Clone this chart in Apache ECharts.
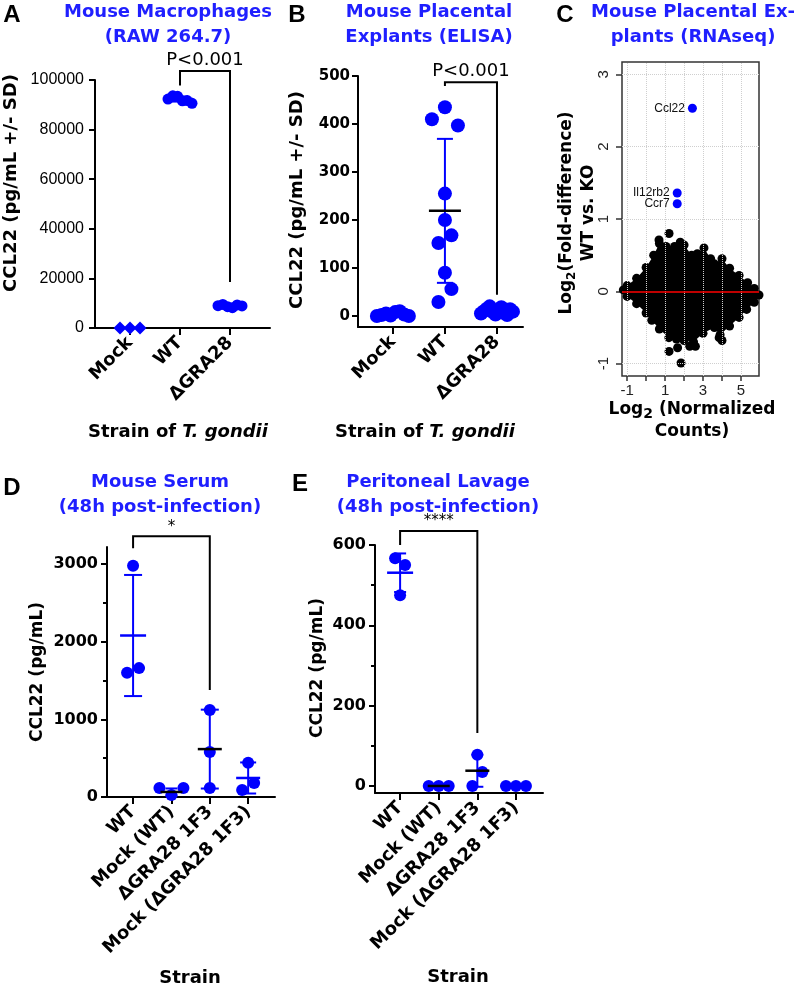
<!DOCTYPE html>
<html>
<head>
<meta charset="utf-8">
<script src="https://cdn.jsdelivr.net/npm/echarts@6/dist/echarts.min.js"></script>
<style>
html, body { margin: 0; padding: 0; background: #fff; }
#chart { width: 800px; height: 989px; }
</style>
</head>
<body>
<div id="chart"></div>
<script>
// ---------- data ----------
// A: RAW 264.7
const catA = ['Mock', 'WT', '\u0394GRA28'];
const mockA = [0, 0, 0];
const wtA = [92300, 93600, 93400, 91600, 91700, 90600];
const graA = [9000, 9500, 8600, 8200, 9300, 8900];
const meanA = [0, 92300, 8900];
const sdA = [0, 1000, 500];
const ticksA = [0, 20000, 40000, 60000, 80000, 100000];

// B: placental explants ELISA
const catB = ['Mock', 'WT', '\u0394GRA28'];
const mockB = [0, 2, 5, 1, 8, 10, 3, 0];
const wtB = [410, 435, 397, 255, 200, 152, 168, 90, 29, 56];
const graB = [5, 10, 15, 20, 8, 3, 12, 18, 6, 2, 14, 9];
const meanB = [4, 219, 10];
const sdB = [4, 150, 6];
const ticksB = [0, 100, 200, 300, 400, 500];

// C: RNAseq MA plot (outline of the dense cloud, stray points, labelled genes)
const cloudUpper = [[-1.2, 0.02], [-1.0, 0.08], [-0.5, 0.18], [0, 0.33], [0.4, 0.5], [0.7, 0.66], [1.05, 0.62],
  [1.5, 0.62], [1.8, 0.68], [2.0, 0.64], [2.4, 0.5], [2.7, 0.52], [3.05, 0.6], [3.4, 0.45], [3.6, 0.38],
  [4.0, 0.45], [4.4, 0.32], [4.9, 0.22], [5.35, 0.12], [5.7, 0.04], [5.95, -0.05]];
const cloudLower = [[5.7, -0.15], [5.3, -0.25], [4.9, -0.36], [4.4, -0.48], [3.9, -0.6], [3.6, -0.5], [3.0, -0.58],
  [2.5, -0.7], [2.0, -0.68], [1.6, -0.66], [1.2, -0.64], [0.7, -0.52], [0.3, -0.4], [0, -0.3], [-0.5, -0.17], [-1.0, -0.07]];
const cloudOut = [[1.21, 0.8], [0.68, 0.71], [1.21, -0.83], [1.66, -0.78], [2.3, -0.76], [2.6, -0.76],
  [1.84, -0.99], [3.85, -0.64], [4.0, -0.68]];
const genesC = ['Ccl22', 'Il12rb2', 'Ccr7'];
const genesX = [2.44, 1.64, 1.64];
const genesY = [2.53, 1.36, 1.21];

// D: mouse serum
const catD = ['WT', 'Mock (WT)', '\u0394GRA28 1F3', 'Mock (\u0394GRA28 1F3)'];
const wtD = [2980, 1600, 1660];
const mockWtD = [115, 25, 115];
const graD = [1120, 580, 116];
const mockGraD = [440, 90, 180];
const meanD = [2080, 65, 617, 245];
const sdD = [780, 45, 508, 200];

// E: peritoneal lavage
const catE = ['WT', 'Mock (WT)', '\u0394GRA28 1F3', 'Mock (\u0394GRA28 1F3)'];
const wtE = [567, 550, 475];
const mockWtE = [0, 0, 0];
const graE = [78, 0, 35];
const mockGraE = [0, 0, 0];
const meanE = [531, 0, 38, 0];
const sdE = [48, 0, 40, 0];

// ---------- styles ----------
const F = 'DejaVu Sans';
const FA = 'Liberation Sans';
const blue = '#0000ff';
const titleBlue = '#1f1fff';

const chart = echarts.init(document.getElementById('chart'), null, { renderer: 'canvas' });

function catAxis(gi, names, min, max) {
  const idx = names.map((_, i) => i);
  return {
    type: 'value', gridIndex: gi, min, max,
    splitLine: { show: false },
    axisLine: { show: true, onZero: false, lineStyle: { color: '#000', width: 2 } },
    axisTick: { show: true, customValues: idx, length: 7, lineStyle: { color: '#000', width: 2 } },
    axisLabel: {
      customValues: idx, rotate: 45, margin: 12, padding: [14, 0, 0, 0],
      formatter: v => names[Math.round(v)],
      fontFamily: F, fontWeight: 'bold', fontSize: 18, color: '#000'
    }
  };
}

function valAxis(gi, min, max, ticks, labelFont) {
  return {
    type: 'value', gridIndex: gi, min, max, position: 'left',
    splitLine: { show: false },
    axisLine: { show: true, onZero: false, lineStyle: { color: '#000', width: 2 } },
    axisTick: { show: true, customValues: ticks, length: 6, lineStyle: { color: '#000', width: 2 } },
    axisLabel: Object.assign({ customValues: ticks, color: '#000', formatter: v => String(v) }, labelFont)
  };
}

function minorAxis(gi, min, max, ticks) {
  return {
    type: 'value', gridIndex: gi, min, max, position: 'left',
    splitLine: { show: false }, axisLine: { show: false, onZero: false },
    axisTick: { show: true, customValues: ticks, length: 4, lineStyle: { color: '#000', width: 2 } },
    axisLabel: { show: false }
  };
}

function errSeries(xi, yi, means, sds, st) {
  return {
    type: 'custom', xAxisIndex: xi, yAxisIndex: yi, z: 4, silent: true, clip: false,
    data: means.map((m, i) => [i, m, sds[i]]),
    encode: { x: 0, y: 1 },
    renderItem: (params, api) => {
      const x = api.value(0), m = api.value(1), sd = api.value(2);
      const s = st[params.dataIndex];
      const pm = api.coord([x, m]);
      const kids = [];
      if (sd > 0) {
        const lo = api.coord([x, m - sd]), hi = api.coord([x, m + sd]);
        kids.push({ type: 'line', shape: { x1: lo[0], y1: lo[1], x2: hi[0], y2: hi[1] }, style: { stroke: blue, lineWidth: 2 } });
        kids.push({ type: 'line', shape: { x1: lo[0] - s.cw, y1: lo[1], x2: lo[0] + s.cw, y2: lo[1] }, style: { stroke: blue, lineWidth: 2 } });
        kids.push({ type: 'line', shape: { x1: hi[0] - s.cw, y1: hi[1], x2: hi[0] + s.cw, y2: hi[1] }, style: { stroke: blue, lineWidth: 2 } });
      }
      kids.push({ type: 'line', shape: { x1: pm[0] - s.mw, y1: pm[1], x2: pm[0] + s.mw, y2: pm[1] }, style: { stroke: s.m, lineWidth: 2.5 } });
      return { type: 'group', children: kids };
    }
  };
}

function bracketSeries(xi, yi, b, label, fs) {
  return {
    type: 'custom', xAxisIndex: xi, yAxisIndex: yi, z: 5, silent: true, clip: false,
    data: [b],
    encode: { x: [0, 1], y: [2] },
    renderItem: (params, api) => {
      const pl = api.coord([api.value(0), api.value(3)]);
      const plt = api.coord([api.value(0), api.value(2)]);
      const prt = api.coord([api.value(1), api.value(2)]);
      const pr = api.coord([api.value(1), api.value(4)]);
      return {
        type: 'group', children: [
          { type: 'polyline', shape: { points: [pl, plt, prt, pr] }, style: { stroke: '#000', lineWidth: 2, fill: null } },
          { type: 'text', x: (plt[0] + prt[0]) / 2, y: plt[1] - 2,
            style: { text: label, align: 'center', verticalAlign: 'bottom', fontFamily: F, fontSize: fs, fill: '#000' } }
        ]
      };
    }
  };
}

function ptsSeries(id, xi, yi, size) {
  return { id, type: 'scatter', xAxisIndex: xi, yAxisIndex: yi, z: 3, silent: true,
    symbolSize: size, itemStyle: { color: blue, opacity: 1 }, data: [] };
}

function txt(x, y, text, o, rot) {
  return { type: 'text', x, y, rotation: rot || 0, silent: true,
    style: Object.assign({ text, fill: '#000', align: 'center', verticalAlign: 'middle',
      fontFamily: F, fontSize: 18, fontWeight: 'bold' }, o || {}) };
}

const bold18 = { fontFamily: F, fontWeight: 'bold', fontSize: 18, fill: '#000' };
const rich18 = {
  a: bold18,
  i: { fontFamily: F, fontWeight: 'bold', fontStyle: 'italic', fontSize: 18, fill: '#000' }
};
const richLog = {
  a: { fontFamily: F, fontWeight: 'bold', fontSize: 17, fill: '#000', lineHeight: 22 },
  s: { fontFamily: F, fontWeight: 'bold', fontSize: 12, fill: '#000', lineHeight: 8, verticalAlign: 'bottom' },
  b: { fontFamily: F, fontWeight: 'bold', fontSize: 14, fill: '#000', lineHeight: 8, verticalAlign: 'bottom' }
};

const titleStyle = { fill: titleBlue, lineHeight: 25 };
const letterStyle = { fontFamily: FA, fontSize: 24 };

const option = {
  backgroundColor: '#fff',
  animation: false,
  grid: [
    { left: 95, top: 80, width: 175, height: 248, outerBoundsMode: 'none' },
    { left: 358, top: 76, width: 165, height: 251, outerBoundsMode: 'none' },
    { left: 622, top: 62, width: 137, height: 314, outerBoundsMode: 'none', show: true,
      borderColor: '#333', borderWidth: 1.5, backgroundColor: 'transparent' },
    { left: 107, top: 547, width: 168, height: 250, outerBoundsMode: 'none' },
    { left: 375, top: 545, width: 168, height: 248, outerBoundsMode: 'none' }
  ],
  xAxis: [
    catAxis(0, catA, -0.7, 2.8),
    catAxis(1, catB, -0.67, 2.5),
    {
      type: 'value', gridIndex: 2, min: -1.27, max: 5.95,
      splitLine: { show: false }, axisLine: { show: false, onZero: false },
      axisTick: { show: true, customValues: [-1, 0, 1, 2, 3, 4, 5, 6], length: 5, lineStyle: { color: '#333', width: 1.5 } },
      axisLabel: { customValues: [-1, 1, 3, 5], margin: 7, fontFamily: FA, fontSize: 15, color: '#222' }
    },
    catAxis(3, catD, -0.68, 3.7),
    catAxis(4, catE, -0.65, 3.7)
  ],
  yAxis: [
    valAxis(0, 0, 100000, ticksA, { fontFamily: FA, fontSize: 16, margin: 11 }),
    valAxis(1, -23, 500, ticksB, { fontFamily: F, fontWeight: 'bold', fontSize: 15, margin: 8 }),
    {
      type: 'value', gridIndex: 2, min: -1.17, max: 3.17, position: 'left',
      splitLine: { show: false }, axisLine: { show: false, onZero: false },
      axisTick: { show: true, customValues: [-1, 0, 1, 2, 3], length: 6, lineStyle: { color: '#333', width: 1.5 } },
      axisLabel: { customValues: [-1, 0, 1, 2, 3], rotate: 90, margin: 11, fontFamily: FA, fontSize: 15, color: '#222' }
    },
    valAxis(3, 0, 3220, [0, 1000, 2000, 3000], { fontFamily: F, fontWeight: 'bold', fontSize: 16, margin: 9 }),
    valAxis(4, -17.5, 600, [0, 200, 400, 600], { fontFamily: F, fontWeight: 'bold', fontSize: 16, margin: 9 }),
    minorAxis(3, 0, 3220, [500, 1500, 2500]),
    minorAxis(4, -17.5, 600, [100, 300, 500])
  ],
  series: [
    ptsSeries('ptsA', 0, 0, 11),
    ptsSeries('ptsB', 1, 1, 14),
    ptsSeries('ptsD', 3, 3, 12),
    ptsSeries('ptsE', 4, 4, 12),
    errSeries(0, 0, meanA, sdA, [{ m: blue, mw: 13, cw: 8 }, { m: blue, mw: 13, cw: 8 }, { m: blue, mw: 13, cw: 8 }]),
    errSeries(1, 1, meanB, sdB, [{ m: blue, mw: 17, cw: 8 }, { m: '#000', mw: 16, cw: 8 }, { m: blue, mw: 17, cw: 8 }]),
    errSeries(3, 3, meanD, sdD, [{ m: blue, mw: 13, cw: 9 }, { m: '#000', mw: 11, cw: 6 }, { m: '#000', mw: 12, cw: 9 }, { m: blue, mw: 12, cw: 8 }]),
    errSeries(4, 4, meanE, sdE, [{ m: blue, mw: 13, cw: 6 }, { m: '#000', mw: 11, cw: 6 }, { m: '#000', mw: 12, cw: 6 }, { m: blue, mw: 12, cw: 6 }]),
    bracketSeries(0, 0, [1, 2, 103600, 97800, 18500], 'P<0.001', 18),
    bracketSeries(1, 1, [1, 2, 487, 479, 44], 'P<0.001', 18),
    bracketSeries(3, 3, [0, 2, 3359, 3205, 1377], '*', 15),
    bracketSeries(4, 4, [0, 2, 635, 600, 132], '****', 15),
    // C: dense cloud
    {
      type: 'custom', xAxisIndex: 2, yAxisIndex: 2, z: 2, silent: true,
      data: [[0, 0]], encode: { x: 0, y: 1 },
      renderItem: (params, api) => ({
        type: 'polygon',
        shape: { points: cloudUpper.concat(cloudLower).map(p => api.coord(p)) },
        style: { fill: '#000' }
      })
    },
    {
      type: 'scatter', xAxisIndex: 2, yAxisIndex: 2, z: 2, silent: true, symbolSize: 9,
      itemStyle: { color: '#000', opacity: 1 },
      data: cloudUpper.concat(cloudLower, cloudOut)
    },
    {
      type: 'scatter', xAxisIndex: 2, yAxisIndex: 2, z: 3, silent: true, data: [],
      markLine: {
        silent: true, symbol: 'none', label: { show: false }, animation: false,
        lineStyle: { color: '#cfcfcf', type: 'dotted', width: 1 },
        data: [-1, 0, 1, 2, 3, 4, 5].map(v => ({ xAxis: v })).concat([-1, 1, 2, 3].map(v => ({ yAxis: v })))
      }
    },
    {
      type: 'scatter', xAxisIndex: 2, yAxisIndex: 2, z: 4, silent: true, data: [],
      markLine: {
        silent: true, symbol: 'none', label: { show: false }, animation: false,
        lineStyle: { color: '#ff0000', type: 'solid', width: 1.5 },
        data: [{ yAxis: 0 }]
      }
    },
    {
      type: 'scatter', xAxisIndex: 2, yAxisIndex: 2, z: 5, silent: true, symbolSize: 9,
      itemStyle: { color: blue, opacity: 1 },
      label: { show: true, position: 'left', distance: 3, formatter: '{b}', fontFamily: FA, fontSize: 12, color: '#111' },
      data: genesC.map((g, i) => ({ name: g, value: [genesX[i], genesY[i]] }))
    }
  ],
  graphic: [
    // panel letters
    txt(12, 15, 'A', letterStyle),
    txt(297, 15, 'B', letterStyle),
    txt(565, 15, 'C', letterStyle),
    txt(12, 488, 'D', letterStyle),
    txt(300, 484, 'E', letterStyle),
    // titles
    txt(168, 25, 'Mouse Macrophages\n(RAW 264.7)', titleStyle),
    txt(429, 25, 'Mouse Placental\nExplants (ELISA)', titleStyle),
    txt(693, 25, 'Mouse Placental Ex-\nplants (RNAseq)', titleStyle),
    txt(160, 495, 'Mouse Serum\n(48h post-infection)', titleStyle),
    txt(438, 495, 'Peritoneal Lavage\n(48h post-infection)', titleStyle),
    // y axis names
    txt(11, 183, 'CCL22 (pg/mL +/- SD)', {}, Math.PI / 2),
    txt(297, 200, 'CCL22 (pg/mL +/- SD)', {}, Math.PI / 2),
    txt(38, 672, 'CCL22 (pg/mL)', { fontSize: 17 }, Math.PI / 2),
    txt(318, 668, 'CCL22 (pg/mL)', { fontSize: 17 }, Math.PI / 2),
    txt(578, 213, '{a|Log}{s|2}{a|(Fold-difference)}\n{a|WT vs. KO}', { rich: richLog, lineHeight: 26 }, Math.PI / 2),
    // x axis names
    txt(178, 432, '{a|Strain of }{i|T. gondii}', { rich: rich18 }),
    txt(425, 432, '{a|Strain of }{i|T. gondii}', { rich: rich18 }),
    txt(692, 421, '{a|Log}{b|2}{a| (Normalized}\n{a|Counts)}', { rich: richLog, lineHeight: 23 }),
    txt(190, 978, 'Strain', {}),
    txt(458, 977, 'Strain', {})
  ]
};

chart.setOption(option);

// scatter dot plot layout: points whose pixel heights chain within `gap` share a row,
// and a row is spread symmetrically around the category (width capped at maxHalf)
function swarm(seriesIndex, groups, step, maxHalf, gap) {
  const out = [];
  groups.forEach((vals, g) => {
    const c0 = chart.convertToPixel({ seriesIndex }, [g, 0]);
    const c1 = chart.convertToPixel({ seriesIndex }, [g + 1, 0]);
    const pxPerCat = c1[0] - c0[0];
    const pys = vals.map(v => chart.convertToPixel({ seriesIndex }, [g, v])[1]);
    const order = vals.map((_, i) => i).sort((a, b) => pys[a] - pys[b]);
    const rows = [];
    let cur = [order[0]];
    for (let j = 1; j < order.length; j++) {
      if (pys[order[j]] - pys[order[j - 1]] < gap) cur.push(order[j]);
      else { rows.push(cur); cur = [order[j]]; }
    }
    rows.push(cur);
    rows.forEach(r => {
      r.sort((a, b) => a - b);
      const n = r.length;
      const s = n > 1 ? Math.min(step, 2 * maxHalf / (n - 1)) : 0;
      r.forEach((i, k) => out.push({ value: [g + (k - (n - 1) / 2) * s / pxPerCat, vals[i]], g }));
    });
  });
  return out;
}

const dA = swarm(0, [mockA, wtA, graA], 10, 12, 12).map(d => ({
  value: d.value, symbol: d.g === 0 ? 'diamond' : 'circle', symbolSize: d.g === 0 ? 13 : 11 }));
const dB = swarm(1, [mockB, wtB, graB], 13, 16, 13).map(d => d.value);
const dD = swarm(2, [wtD, mockWtD, graD, mockGraD], 12, 12, 15).map(d => d.value);
const dE = swarm(3, [wtE, mockWtE, graE, mockGraE], 10, 12, 15).map(d => d.value);

chart.setOption({
  series: [
    { id: 'ptsA', data: dA },
    { id: 'ptsB', data: dB },
    { id: 'ptsD', data: dD },
    { id: 'ptsE', data: dE }
  ]
});
</script>
</body>
</html>
